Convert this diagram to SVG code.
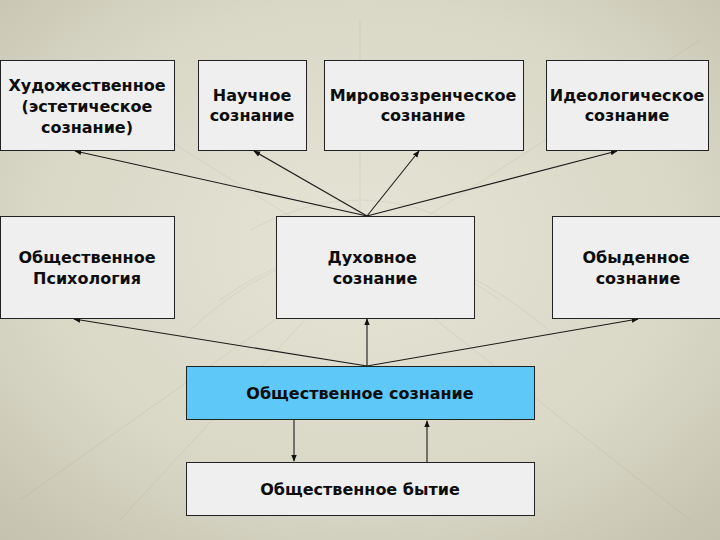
<svg xmlns="http://www.w3.org/2000/svg" width="720" height="540" viewBox="0 0 720 540">
<defs>
<radialGradient id="bg" cx="0.5" cy="0.45" r="0.75">
<stop offset="0" stop-color="#e6e4d6"/>
<stop offset="0.6" stop-color="#d9d7c6"/>
<stop offset="1" stop-color="#c4c2ae"/>
</radialGradient>
<marker id="ah" viewBox="0 0 10 10" refX="9" refY="5" markerWidth="7" markerHeight="7" orient="auto" markerUnits="userSpaceOnUse">
<path d="M0,1 L10,5 L0,9 z" fill="#111"/>
</marker>
<style>
.box{fill:#efefef;stroke:#222;stroke-width:1}
.blue{fill:#5ec8f8;stroke:#222;stroke-width:1}
.t{font-family:"DejaVu Sans",Verdana,sans-serif;font-weight:bold;font-size:16px;fill:#0d0d0d;text-anchor:middle}
.c{stroke:#1a1a1a;stroke-width:1.1;fill:none;marker-end:url(#ah)}
</style>
</defs>
<rect width="720" height="540" fill="url(#bg)"/>
<g opacity="0.12" stroke="#8a8670" fill="none" stroke-width="1">
<path d="M360,260 L40,60 M360,260 L700,40 M360,260 L690,520 M360,260 L20,500 M360,260 L360,20 M360,260 L120,520"/>
<path d="M250,230 Q360,170 470,230 M220,300 Q360,200 500,300 M180,340 Q360,160 560,340"/>
</g>
<g id="connectors">
<line class="c" x1="367" y1="216" x2="75" y2="151"/>
<line class="c" x1="367" y1="216" x2="254" y2="151"/>
<line class="c" x1="367" y1="216" x2="419" y2="151"/>
<line class="c" x1="367" y1="216" x2="617" y2="151"/>
<line class="c" x1="367" y1="366" x2="74" y2="319"/>
<line class="c" x1="367" y1="366" x2="367" y2="319"/>
<line class="c" x1="367" y1="366" x2="638" y2="319"/>
<line class="c" x1="294" y1="420" x2="294" y2="461"/>
<line class="c" x1="427" y1="462" x2="427" y2="421"/>
</g>
<g id="n-art">
<rect class="box" x="0.5" y="60.5" width="174" height="90"/>
<text class="t" x="87" y="91">Художественное</text>
<text class="t" x="87" y="112">(эстетическое</text>
<text class="t" x="87" y="133">сознание)</text>
</g>
<g id="n-sci">
<rect class="box" x="198.5" y="60.5" width="108" height="90"/>
<text class="t" x="252" y="101">Научное</text>
<text class="t" x="252" y="121">сознание</text>
</g>
<g id="n-world">
<rect class="box" x="324.5" y="60.5" width="199" height="90"/>
<text class="t" x="423" y="101">Мировоззренческое</text>
<text class="t" x="423" y="121">сознание</text>
</g>
<g id="n-ideo">
<rect class="box" x="546.5" y="60.5" width="162" height="90"/>
<text class="t" x="627" y="101">Идеологическое</text>
<text class="t" x="627" y="121">сознание</text>
</g>
<g id="n-psy">
<rect class="box" x="0.5" y="216.5" width="174" height="102"/>
<text class="t" x="87" y="263">Общественное</text>
<text class="t" x="87" y="284">Психология</text>
</g>
<g id="n-spirit">
<rect class="box" x="276.5" y="216.5" width="198" height="102"/>
<text class="t" x="372" y="263">Духовное</text>
<text class="t" x="375" y="284">сознание</text>
</g>
<g id="n-every">
<rect class="box" x="552.5" y="216.5" width="170" height="102"/>
<text class="t" x="636" y="263">Обыденное</text>
<text class="t" x="638" y="284">сознание</text>
</g>
<g id="n-social">
<rect class="blue" x="186.5" y="366.5" width="348" height="53"/>
<text class="t" x="360" y="399">Общественное сознание</text>
</g>
<g id="n-being">
<rect class="box" x="186.5" y="462.5" width="348" height="53"/>
<text class="t" x="360" y="495">Общественное бытие</text>
</g>
</svg>
